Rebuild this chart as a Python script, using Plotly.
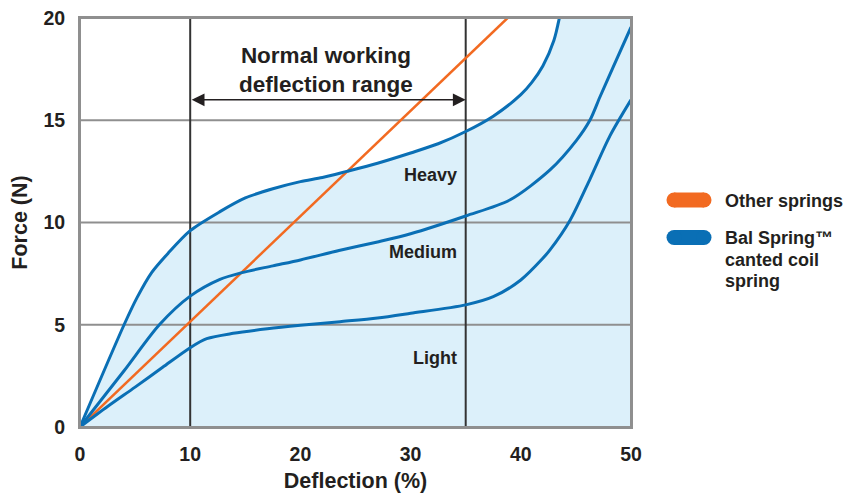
import plotly.graph_objects as go

# ---- data ----
other_x = [0, 38.8]
other_y = [0, 20]

heavy_x = [0, 4, 5.2, 6.5, 8, 10, 12.7, 15, 17.5, 20, 22, 24.2, 27, 30, 32.5, 35, 37.5, 40, 41, 42, 43, 43.5]
heavy_y = [0, 5.0, 6.35, 7.55, 8.5, 9.6, 10.53, 11.2, 11.65, 12.0, 12.2, 12.5, 12.9, 13.4, 13.85, 14.45, 15.2, 16.25, 16.85, 17.65, 18.9, 20]

medium_x = [0, 4, 7.2, 10, 12.7, 14.7, 17.5, 20, 23.5, 27, 30, 35, 39, 42.65, 45.07, 46.28, 47.19, 48.4, 50]
medium_y = [0, 2.75, 5.0, 6.4, 7.22, 7.55, 7.88, 8.17, 8.63, 9.05, 9.45, 10.32, 11.1, 12.57, 14.03, 15.01, 16.15, 17.62, 19.55]

light_x = [0, 2.5, 5, 7.5, 10, 11.5, 13.9, 17, 20, 23.6, 27, 30, 35, 37.5, 40, 42, 42.65, 44.46, 46.3, 48.1, 50]
light_y = [0, 1.0, 1.95, 2.92, 3.88, 4.32, 4.58, 4.8, 4.97, 5.15, 5.33, 5.56, 5.97, 6.37, 7.19, 8.25, 8.66, 10.1, 12.15, 14.25, 16.0]

range_x = [10, 35]
arrow_y = 16.0
x_ticks = [0, 10, 20, 30, 40, 50]
y_ticks = [0, 5, 10, 15, 20]
grid_y = [5, 10, 15]

curve_labels = ["Heavy", "Medium", "Light"]
curve_label_y = [12.32, 8.56, 3.37]

legend_labels = ["Other springs"]
legend_labels_2 = ["Bal Spring™", "canted coil", "spring"]

BLUE = "#0a6fb5"
ORANGE = "#f26a21"
FILL = "#dcf0fa"
GRID = "#8f8f8f"
DARK = "#231f20"
FONT = "Liberation Sans"

# the page body adds an 8px offset; size the figure so the plot area lands
# at page pixels x 80..631, y 18..427
OFF = 8
W, H = 861 - OFF, 493 - OFF
ML, MT = 80 - OFF, 18 - OFF
MR, MB = 230, 66

fig = go.Figure()

# filled region below the heavy curve
fig.add_trace(go.Scatter(x=heavy_x + [50], y=heavy_y + [20], mode="lines",
                         line=dict(color=FILL, width=0, shape="spline", smoothing=0.8),
                         fill="tozeroy", fillcolor=FILL, hoverinfo="skip", showlegend=False))

# horizontal grid lines
for g in grid_y:
    fig.add_trace(go.Scatter(x=[0, 50], y=[g, g], mode="lines",
                             line=dict(color=GRID, width=2), hoverinfo="skip", showlegend=False))

# working range vertical lines
for v in range_x:
    fig.add_trace(go.Scatter(x=[v, v], y=[0, 20], mode="lines",
                             line=dict(color="#333333", width=2), hoverinfo="skip", showlegend=False))

fig.add_trace(go.Scatter(x=other_x, y=other_y, mode="lines",
                         line=dict(color=ORANGE, width=2.5), showlegend=False))
for xs, ys in [(heavy_x, heavy_y), (medium_x, medium_y), (light_x, light_y)]:
    fig.add_trace(go.Scatter(x=xs, y=ys, mode="lines",
                             line=dict(color=BLUE, width=3, shape="spline", smoothing=0.8),
                             showlegend=False))

# plot frame
fig.add_shape(type="rect", xref="paper", yref="paper", x0=0, x1=1, y0=0, y1=1,
              line=dict(color=GRID, width=2), fillcolor="rgba(0,0,0,0)", layer="above")

# arrow
fig.add_annotation(x=range_x[1], y=arrow_y, ax=range_x[0], ay=arrow_y,
                   xref="x", yref="y", axref="x", ayref="y", text="",
                   showarrow=True, arrowhead=2, startarrowhead=2, arrowside="end+start",
                   arrowsize=1.6, startarrowsize=1.6, arrowwidth=1.6, arrowcolor=DARK)
fig.add_annotation(x=22.3, y=17.48, xref="x", yref="y",
                   text="<b>Normal working<br>deflection range</b>", showarrow=False,
                   yanchor="middle", font=dict(family=FONT, size=22.5, color=DARK))

for t, yy in zip(curve_labels, curve_label_y):
    fig.add_annotation(x=34.35, y=yy, xref="x", yref="y", text="<b>%s</b>" % t,
                       showarrow=False, xanchor="right",
                       font=dict(family=FONT, size=18, color=DARK))

# legend (custom), positions given in page pixels
def px_x(p):
    return (p - 80) / 551

def px_y(p):
    return (427 - p) / 409

def pill(cy, color):
    h = 15
    w = 45
    for s in [dict(type="rect", x0=-w / 2 + h / 2, x1=w / 2 - h / 2, y0=-h / 2, y1=h / 2),
              dict(type="circle", x0=-w / 2, x1=-w / 2 + h, y0=-h / 2, y1=h / 2),
              dict(type="circle", x0=w / 2 - h, x1=w / 2, y0=-h / 2, y1=h / 2)]:
        fig.add_shape(xref="paper", yref="paper", xsizemode="pixel", ysizemode="pixel",
                      xanchor=px_x(689), yanchor=px_y(cy),
                      fillcolor=color, line=dict(width=0), layer="above", **s)

pill(200, ORANGE)
pill(237.5, BLUE)
fig.add_annotation(x=px_x(723), y=px_y(201), xref="paper", yref="paper",
                   text="<b>%s</b>" % legend_labels[0], showarrow=False, xanchor="left", yanchor="middle",
                   font=dict(family=FONT, size=18, color=DARK))
for t, cy in zip(legend_labels_2, [238, 259.5, 281]):
    fig.add_annotation(x=px_x(723), y=px_y(cy), xref="paper", yref="paper",
                       text="<b>%s</b>" % t, showarrow=False,
                       xanchor="left", yanchor="middle",
                       font=dict(family=FONT, size=18, color=DARK))

fig.update_xaxes(range=[0, 50], tickvals=x_ticks, ticktext=["<b>%d</b>" % v for v in x_ticks],
                 showgrid=False, zeroline=False, automargin=False, ticklabeloverflow="allow",
                 showline=True, mirror=True, linecolor=GRID, linewidth=2,
                 ticks="", ticklabelstandoff=9,
                 tickfont=dict(family=FONT, size=19.5, color=DARK),
                 title=dict(text="<b>Deflection (%)</b>", standoff=10,
                            font=dict(family=FONT, size=21.5, color=DARK)))
fig.update_yaxes(range=[0, 20], tickvals=y_ticks, ticktext=["<b>%d</b>" % v for v in y_ticks],
                 showgrid=False, zeroline=False, automargin=False, ticklabeloverflow="allow",
                 showline=True, mirror=True, linecolor=GRID, linewidth=2,
                 ticks="", ticklabelstandoff=9,
                 tickfont=dict(family=FONT, size=19.5, color=DARK),
                 title=dict(text="<b>Force (N)</b>", standoff=10,
                            font=dict(family=FONT, size=21.5, color=DARK)))

fig.update_layout(width=W, height=H, margin=dict(l=ML, r=MR, t=MT, b=MB),
                  plot_bgcolor="white", paper_bgcolor="white", showlegend=False)

fig.write_html("out.html")
